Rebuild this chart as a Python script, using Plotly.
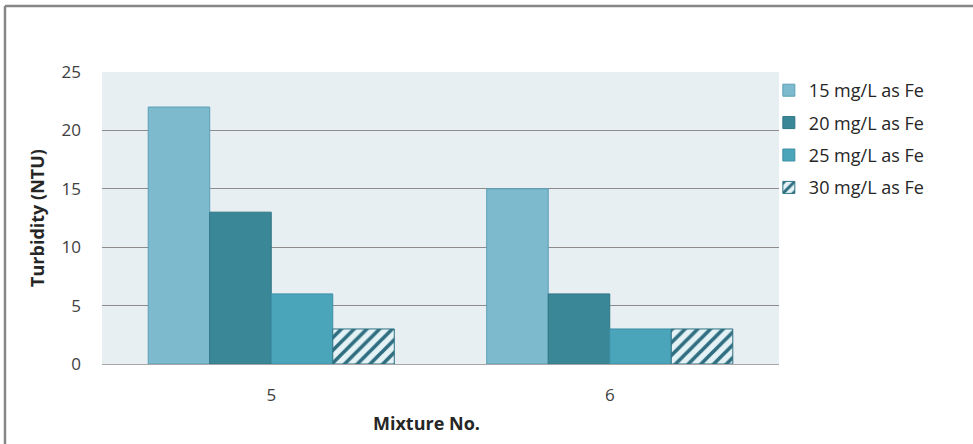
import plotly.graph_objects as go

categories = ["5", "6"]
series_names = ["15 mg/L as Fe", "20 mg/L as Fe", "25 mg/L as Fe", "30 mg/L as Fe"]
values_15 = [22, 15]
values_20 = [13, 6]
values_25 = [6, 3]
values_30 = [3, 3]
y_ticks = [0, 5, 10, 15, 20, 25]

all_values = [values_15, values_20, values_25, values_30]
fills = ["#7DBACE", "#3A8798", "#4AA4BA", "#E4F1F5"]
edges = ["#5A9FB6", "#2F7585", "#3C8FA5", "#2E7284"]

fig = go.Figure()
for i, (name, vals) in enumerate(zip(series_names, all_values)):
    marker = dict(color=fills[i], line=dict(color=edges[i], width=1))
    if i == 3:
        marker["pattern"] = dict(shape="/", fgcolor="#2E6E80", bgcolor="#E4F1F5",
                                 size=9, solidity=0.4, fillmode="replace")
    fig.add_trace(go.Bar(x=categories, y=vals, name=name, marker=marker,
                         legendgroup=f"g{i}"))

font_family = "'Open Sans', sans-serif"
fig.update_layout(
    width=973, height=444,
    margin=dict(l=102, r=194, t=72, b=80),
    paper_bgcolor="white",
    plot_bgcolor="#E8EFF2",
    barmode="group",
    bargap=0.273,
    bargroupgap=0,
    font=dict(family=font_family, size=17, color="#404040"),
    legend=dict(x=0.985, y=1.0, xanchor="left", yanchor="top",
                font=dict(size=18, color="#262626"),
                tracegroupgap=6, traceorder="grouped",
                bgcolor="rgba(0,0,0,0)"),
    xaxis=dict(showgrid=False, showline=True, linecolor="#A6A6A6", linewidth=1,
               ticks="", ticklabelstandoff=16, tickfont=dict(size=17, color="#404040")),
    yaxis=dict(range=[0, 25], tickvals=y_ticks, showgrid=True, gridcolor="#8C8C8C",
               gridwidth=1, zeroline=False, showline=False, ticks="",
               ticklabelstandoff=20,
               tickfont=dict(size=17, color="#404040"),
               title=dict(text="<b>Turbidity (NTU)</b>", font=dict(size=18, color="#262626"),
                          standoff=12)),
    annotations=[
        dict(text="<b>Mixture No.</b>", xref="paper", yref="paper", x=0.48, y=-0.202,
             xanchor="center", yanchor="middle", showarrow=False,
             font=dict(size=18, color="#262626")),
    ],
    shapes=[
        dict(type="line", xref="paper", yref="paper", x0=-0.1433, x1=1.5, y0=1.226, y1=1.226,
             line=dict(color="#878787", width=2.5)),
        dict(type="line", xref="paper", yref="paper", x0=-0.1433, x1=-0.1433, y0=1.226, y1=-0.5,
             line=dict(color="#878787", width=2.5)),
    ],
)

fig.write_html("out.html", config={"displayModeBar": False},
               post_script="document.body.style.margin='0';")
